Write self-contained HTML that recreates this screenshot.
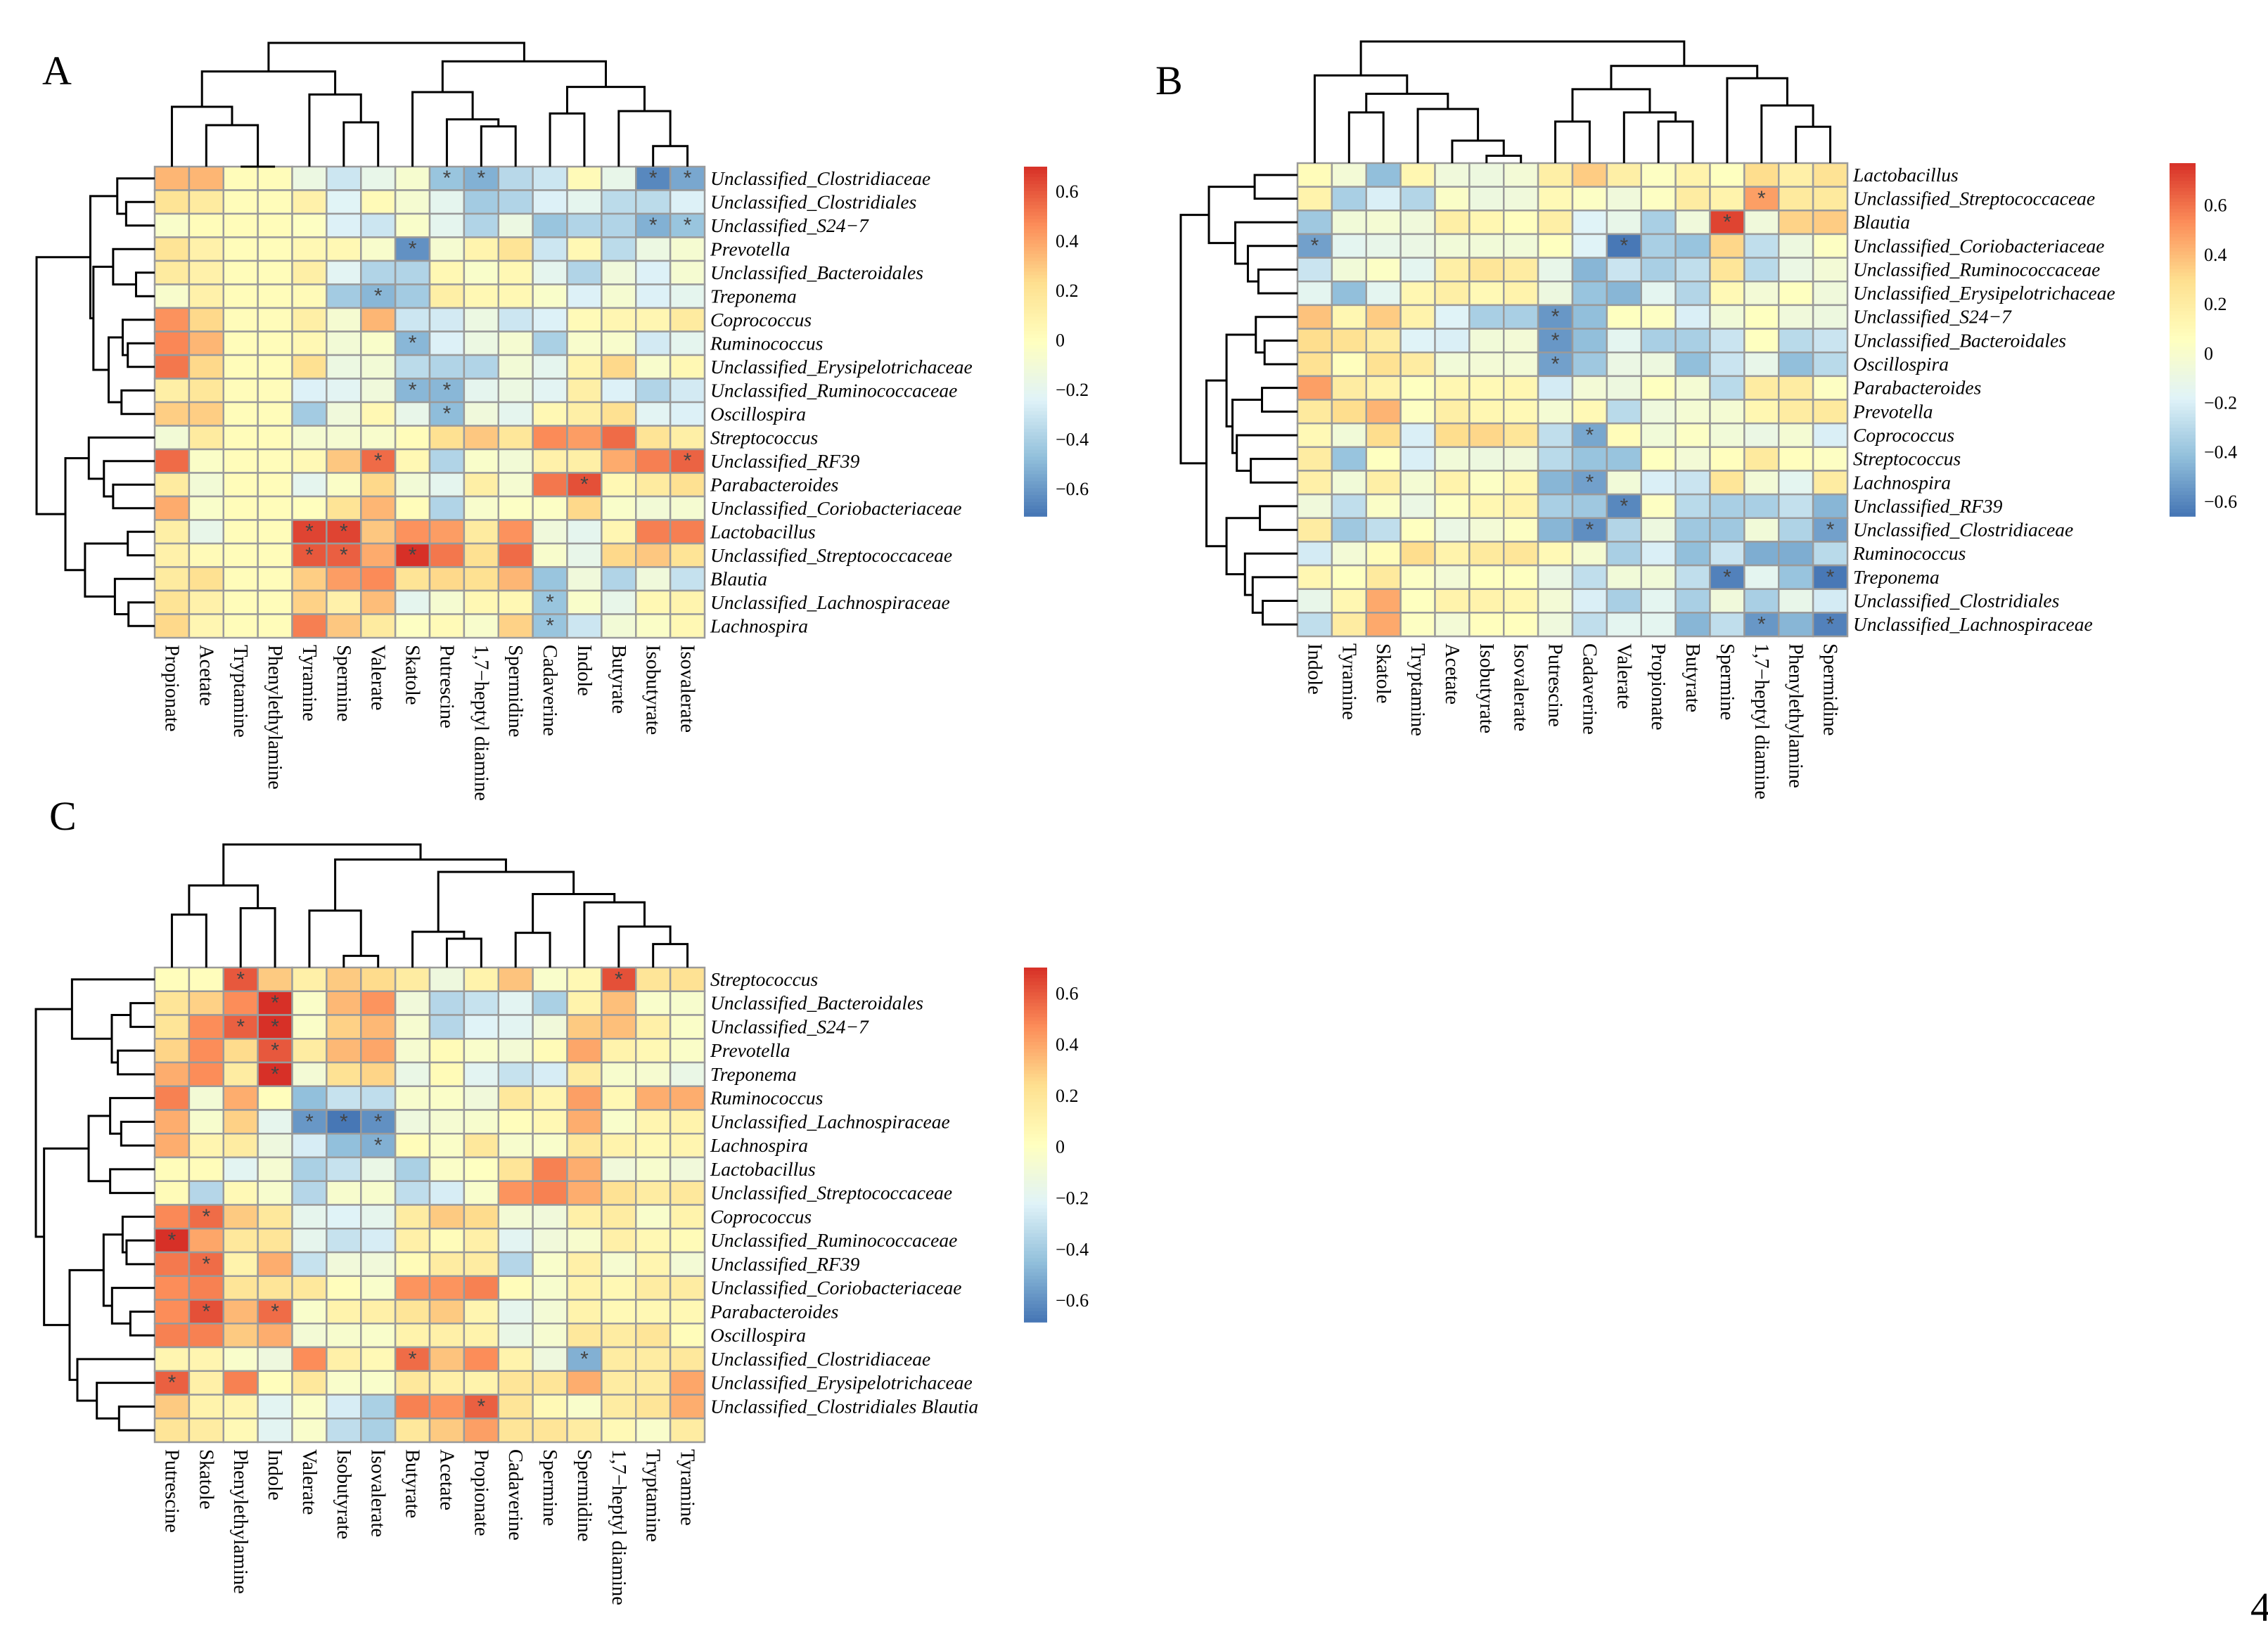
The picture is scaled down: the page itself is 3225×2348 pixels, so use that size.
<!DOCTYPE html>
<html><head><meta charset="utf-8"><title>Heatmaps</title>
<style>
html,body{margin:0;padding:0;background:#fff;}
svg{display:block;}
.rl{font-family:"Liberation Serif",serif;font-style:italic;font-size:27.5px;fill:#000;}
.cl{font-family:"Liberation Serif",serif;font-size:28.5px;fill:#000;}
.tk{font-family:"Liberation Serif",serif;font-size:26px;fill:#000;}
.pl{font-family:"Liberation Serif",serif;font-size:58px;fill:#000;}
.st{font-family:"Liberation Sans",sans-serif;font-size:30px;fill:#444;}
</style></head>
<body>
<svg id="fig" width="3225" height="2348" viewBox="0 0 3225 2348" xmlns="http://www.w3.org/2000/svg">
<text class="pl" x="60" y="120">A</text>
<text class="pl" x="1643" y="134">B</text>
<text class="pl" x="70" y="1180">C</text>
<text class="pl" x="3200" y="2305">4</text>
</svg>
<script>
// ---------- Panel A data ----------
const rowsA = ["Unclassified_Clostridiaceae","Unclassified_Clostridiales","Unclassified_S24\u22127","Prevotella","Unclassified_Bacteroidales","Treponema","Coprococcus","Ruminococcus","Unclassified_Erysipelotrichaceae","Unclassified_Ruminococcaceae","Oscillospira","Streptococcus","Unclassified_RF39","Parabacteroides","Unclassified_Coriobacteriaceae","Lactobacillus","Unclassified_Streptococcaceae","Blautia","Unclassified_Lachnospiraceae","Lachnospira"];
const colsA = ["Propionate","Acetate","Tryptamine","Phenylethylamine","Tyramine","Spermine","Valerate","Skatole","Putrescine","1,7\u2212heptyl diamine","Spermidine","Cadaverine","Indole","Butyrate","Isobutyrate","Isovalerate"];
const valsA = [
[0.35,0.35,0.02,0.02,-0.15,-0.3,-0.18,-0.07,-0.45,-0.52,-0.36,-0.3,0.03,-0.18,-0.65,-0.55],
[0.2,0.15,0.02,0.02,0.1,-0.23,0.03,-0.08,-0.2,-0.42,-0.38,-0.25,-0.2,-0.35,-0.35,-0.25],
[-0.05,0.02,0.02,0.02,-0.02,-0.25,-0.3,-0.05,-0.2,-0.38,-0.15,-0.45,-0.38,-0.38,-0.52,-0.45],
[0.2,0.1,0.02,0.02,0.05,0.05,-0.06,-0.62,-0.08,0.08,0.2,-0.3,0.05,-0.35,-0.15,-0.08],
[0.15,0.1,0.02,0.02,0.12,-0.22,-0.38,-0.38,0.05,-0.05,0.05,-0.2,-0.38,-0.12,-0.25,-0.08],
[-0.06,0.1,0.02,0.02,0.03,-0.42,-0.5,-0.42,0.12,0.05,0.05,-0.05,-0.25,-0.08,-0.25,-0.2],
[0.45,0.25,0.02,0.02,0.12,-0.08,0.35,-0.3,-0.28,-0.15,-0.3,-0.25,0.03,0.06,0.06,0.15],
[0.48,0.35,0.02,0.02,0.05,-0.1,-0.05,-0.5,-0.25,-0.15,-0.08,-0.4,-0.06,-0.06,-0.28,-0.2],
[0.52,0.25,0.02,0.02,0.22,-0.15,-0.1,-0.35,-0.38,-0.38,-0.1,-0.2,0.08,0.25,-0.06,0.05],
[0.12,0.18,0.02,0.02,-0.25,-0.22,-0.12,-0.5,-0.5,-0.2,-0.15,-0.22,0.12,-0.25,-0.38,-0.28],
[0.28,0.28,0.02,0.02,-0.42,-0.12,0.05,-0.18,-0.48,-0.12,-0.2,0.05,0.12,0.22,-0.22,-0.25],
[-0.1,0.15,0.02,0.02,-0.08,-0.08,-0.06,0.02,0.22,0.3,0.18,0.47,0.42,0.55,0.2,0.12],
[0.55,-0.04,0.02,0.02,0.04,0.3,0.55,0.05,-0.38,-0.05,-0.1,0.1,0.12,0.38,0.5,0.57],
[0.15,-0.1,0.02,0.02,-0.2,-0.04,0.25,-0.1,-0.2,0.12,-0.08,0.52,0.62,0.05,0.15,0.22],
[0.38,-0.05,0.02,0.02,0.0,0.2,0.35,0.02,-0.38,-0.06,-0.03,-0.03,0.25,-0.05,-0.1,-0.08],
[0.12,-0.18,0.02,0.02,0.65,0.65,0.3,0.45,0.42,0.15,0.45,-0.12,-0.2,0.06,0.5,0.5],
[0.1,0.03,0.02,0.02,0.6,0.58,0.38,0.72,0.52,0.22,0.55,-0.06,-0.18,0.25,0.3,0.2],
[0.15,0.22,0.02,0.02,0.28,0.42,0.47,0.2,0.25,0.22,0.35,-0.45,-0.12,-0.38,-0.12,-0.32],
[0.2,0.1,0.02,0.02,0.27,0.1,0.33,-0.2,-0.08,0.05,0.05,-0.45,-0.05,-0.18,0.05,0.08],
[0.25,0.06,0.02,0.02,0.5,0.3,0.15,-0.02,0.03,-0.06,0.27,-0.45,-0.3,-0.1,-0.04,0.05]];
const starsA = [[0,8],[0,9],[0,14],[0,15],[2,14],[2,15],[3,7],[5,6],[7,7],[9,7],[9,8],[10,8],[12,6],[12,15],[13,12],[15,4],[15,5],[16,4],[16,5],[16,7],[18,11],[19,11]];
const ticksA = ["0.6","0.4","0.2","0","\u22120.2","\u22120.4","\u22120.6"];
const tickValsA = [0.6,0.4,0.2,0,-0.2,-0.4,-0.6];
const colTreeA = [[2,3,0],[1,100,0.335],[0,101,0.484],[5,6,0.358],[4,103,0.583],[102,104,0.769],[9,10,0.325],[8,106,0.382],[7,107,0.602],[11,12,0.43],[14,15,0.166],[13,110,0.449],[109,111,0.644],[108,112,0.851],[105,113,1]];
const rowTreeA = [[1,2,.242],[0,100,.317],[4,5,.158],[3,102,.352],[7,8,.228],[6,104,.271],[9,10,.281],[105,106,.39],[103,107,.519],[101,108,.545],[13,14,.352],[12,110,.43],[11,111,.558],[15,16,.228],[18,19,.222],[17,114,.337],[113,115,.59],[112,116,.756],[109,117,1]];

// ---------- Panel B data ----------
const rowsB = ["Lactobacillus","Unclassified_Streptococcaceae","Blautia","Unclassified_Coriobacteriaceae","Unclassified_Ruminococcaceae","Unclassified_Erysipelotrichaceae","Unclassified_S24\u22127","Unclassified_Bacteroidales","Oscillospira","Parabacteroides","Prevotella","Coprococcus","Streptococcus","Lachnospira","Unclassified_RF39","Unclassified_Clostridiaceae","Ruminococcus","Treponema","Unclassified_Clostridiales","Unclassified_Lachnospiraceae"];
const colsB = ["Indole","Tyramine","Skatole","Tryptamine","Acetate","Isobutyrate","Isovalerate","Putrescine","Cadaverine","Valerate","Propionate","Butyrate","Spermine","1,7\u2212heptyl diamine","Phenylethylamine","Spermidine"];
const valsB = [
[0.08,-0.04,-0.42,0.12,-0.06,-0.08,-0.04,0.18,0.35,0.18,0.04,0.15,0.05,0.3,0.17,0.27],
[0.15,-0.35,-0.2,-0.32,0.02,-0.08,-0.06,0.1,0.03,-0.06,0.04,0.2,0.15,0.48,0.22,0.22],
[-0.38,-0.05,-0.03,-0.06,0.18,0.12,0.06,0.18,-0.18,-0.12,-0.35,-0.06,0.72,-0.06,0.33,0.35],
[-0.52,-0.15,-0.12,-0.1,-0.05,-0.05,-0.05,0.05,-0.18,-0.65,-0.35,-0.4,0.32,-0.28,-0.08,0.04],
[-0.25,-0.05,0.03,-0.15,0.18,0.25,0.2,-0.12,-0.45,-0.25,-0.35,-0.28,0.25,-0.3,-0.1,-0.04],
[-0.15,-0.42,-0.15,0.12,0.18,0.1,0.15,-0.08,-0.4,-0.45,-0.15,-0.32,0.1,-0.04,0.05,-0.06],
[0.38,0.12,0.35,0.15,-0.18,-0.35,-0.35,-0.55,-0.42,0.05,0.04,-0.2,-0.05,0.05,-0.06,-0.08],
[0.3,0.28,0.2,-0.18,-0.2,-0.05,-0.04,-0.55,-0.42,-0.15,-0.35,-0.35,-0.25,0.05,-0.3,-0.25],
[0.28,0.06,0.28,0.2,-0.05,-0.04,-0.04,-0.52,-0.38,-0.1,-0.08,-0.42,-0.25,-0.12,-0.42,-0.3],
[0.48,0.2,0.15,0.05,0.12,0.1,0.12,-0.22,-0.04,-0.08,0.05,-0.03,-0.3,0.2,0.2,0.04],
[0.22,0.3,0.42,0.04,0.18,0.12,0.1,-0.03,0.1,-0.3,-0.07,-0.03,-0.03,0.12,0.2,0.22],
[0.1,-0.05,0.3,-0.2,0.3,0.32,0.25,-0.28,-0.5,0.08,-0.05,0.03,-0.05,-0.1,-0.03,-0.2],
[0.2,-0.4,0.05,-0.2,-0.05,-0.08,-0.06,-0.3,-0.4,-0.4,0.05,-0.04,0.06,0.22,0.06,0.04],
[0.17,-0.05,0.18,-0.03,0.15,0.03,0.12,-0.45,-0.52,-0.05,-0.2,-0.25,0.25,-0.04,-0.15,0.2],
[-0.06,-0.28,0.02,-0.1,0.04,0.12,0.15,-0.35,-0.38,-0.6,0.04,-0.3,-0.35,-0.35,-0.27,-0.45],
[0.2,-0.38,-0.28,0.05,-0.1,-0.04,0.04,-0.45,-0.58,-0.32,-0.08,-0.38,-0.38,-0.05,-0.33,-0.52],
[-0.22,-0.04,0.08,0.3,0.15,0.22,0.25,0.1,-0.02,-0.35,-0.2,-0.42,-0.25,-0.48,-0.48,-0.3],
[0.12,0.05,0.22,0.03,-0.04,0.05,0.05,-0.1,-0.28,-0.05,-0.05,-0.28,-0.62,-0.15,-0.4,-0.65],
[-0.12,0.12,0.45,0.05,0.15,0.15,0.12,-0.04,-0.2,-0.35,-0.15,-0.35,-0.06,-0.35,-0.12,-0.22],
[-0.28,0.2,0.45,0.04,-0.04,0.06,0.06,-0.07,-0.28,-0.15,-0.15,-0.45,-0.28,-0.55,-0.45,-0.62]];
const starsB = [[1,13],[2,12],[3,0],[3,9],[6,7],[7,7],[8,7],[11,8],[13,8],[14,9],[15,8],[15,15],[17,12],[17,15],[19,13],[19,15]];
const ticksB = ["0.6","0.4","0.2","0","\u22120.2","\u22120.4","\u22120.6"];
const tickValsB = [0.6,0.4,0.2,0,-0.2,-0.4,-0.6];
const colTreeB = [[1,2,.417],[5,6,.061],[4,101,.185],[3,102,.445],[100,103,.57],[0,104,.721],[7,8,.342],[10,11,.342],[9,107,.417],[106,108,.608],[14,15,.299],[13,110,.474],[12,111,.698],[109,112,.799],[105,113,1]];
const rowTreeB = [[0,1,.367],[4,5,.335],[3,101,.425],[2,102,.533],[100,103,.759],[7,8,.282],[6,105,.357],[9,10,.304],[12,13,.4],[11,108,.52],[107,109,.557],[106,110,.608],[14,15,.322],[18,19,.298],[17,113,.384],[16,114,.45],[112,115,.608],[111,116,.78],[104,117,1]];

// ---------- Panel C data ----------
const rowsC = ["Streptococcus","Unclassified_Bacteroidales","Unclassified_S24\u22127","Prevotella","Treponema","Ruminococcus","Unclassified_Lachnospiraceae","Lachnospira","Lactobacillus","Unclassified_Streptococcaceae","Coprococcus","Unclassified_Ruminococcaceae","Unclassified_RF39","Unclassified_Coriobacteriaceae","Parabacteroides","Oscillospira","Unclassified_Clostridiaceae","Unclassified_Erysipelotrichaceae","Unclassified_Clostridiales Blautia",""];
const colsC = ["Putrescine","Skatole","Phenylethylamine","Indole","Valerate","Isobutyrate","Isovalerate","Butyrate","Acetate","Propionate","Cadaverine","Spermine","Spermidine","1,7\u2212heptyl diamine","Tryptamine","Tyramine"];
const valsC = [
[0.02,0.02,0.6,0.3,0.12,0.3,0.25,0.15,-0.12,0.1,0.32,-0.04,0.06,0.62,0.2,0.22],
[0.2,0.28,0.47,0.7,-0.03,0.35,0.45,-0.1,-0.35,-0.3,-0.2,-0.38,0.1,0.33,-0.04,-0.05],
[0.2,0.47,0.58,0.7,-0.03,0.28,0.35,-0.06,-0.35,-0.22,-0.2,-0.1,0.3,0.33,0.12,-0.03],
[0.27,0.47,0.25,0.6,0.15,0.35,0.4,-0.06,0.04,-0.04,-0.08,0.04,0.4,0.1,0.06,-0.03],
[0.38,0.47,0.15,0.7,-0.08,0.22,0.27,-0.15,0.04,-0.2,-0.3,-0.25,0.15,-0.05,-0.06,-0.15],
[0.5,-0.08,0.38,0.02,-0.45,-0.3,-0.32,-0.05,-0.03,-0.1,0.18,0.08,0.42,0.06,0.38,0.38],
[0.38,-0.05,0.28,-0.18,-0.58,-0.68,-0.6,-0.12,-0.07,-0.05,0.02,0.06,0.38,-0.04,0.08,0.1],
[0.38,0.08,0.15,-0.12,-0.25,-0.45,-0.5,0.03,-0.03,0.18,-0.05,-0.04,0.18,0.1,0.05,0.08],
[0.03,0.03,-0.2,-0.07,-0.38,-0.3,-0.15,-0.38,-0.03,0.0,0.2,0.5,0.38,-0.1,-0.05,-0.1],
[0.04,-0.35,0.05,-0.05,-0.35,-0.05,-0.05,-0.32,-0.25,-0.04,0.45,0.5,0.38,0.22,0.15,0.18],
[0.48,0.55,0.3,0.18,-0.18,-0.22,-0.18,0.15,0.3,0.25,-0.08,-0.1,0.12,0.15,-0.04,0.1],
[0.7,0.4,0.18,0.2,-0.18,-0.3,-0.25,0.12,0.03,0.12,-0.2,-0.1,-0.05,0.12,0.06,0.04],
[0.52,0.55,0.1,0.38,-0.3,-0.1,-0.1,0.04,0.15,0.15,-0.35,-0.04,0.12,-0.06,0.08,-0.08],
[0.47,0.5,0.2,0.2,0.18,0.02,-0.04,0.45,0.45,0.5,0.03,-0.05,0.1,0.06,0.15,0.15],
[0.47,0.62,0.35,0.55,-0.04,0.1,0.12,0.2,0.3,0.08,-0.18,-0.08,0.1,0.05,0.06,0.06],
[0.5,0.5,0.3,0.38,-0.08,-0.05,-0.04,0.1,0.12,0.1,-0.15,-0.06,0.18,0.15,0.2,0.03],
[0.08,0.08,-0.04,-0.12,0.47,0.12,0.05,0.55,0.32,0.47,0.1,-0.12,-0.5,0.15,0.15,0.18],
[0.58,0.12,0.5,0.02,0.18,-0.04,-0.04,0.18,0.12,0.1,0.2,0.2,0.38,0.15,0.15,0.4],
[0.3,0.1,0.08,-0.2,-0.03,-0.25,-0.38,0.5,0.45,0.58,0.2,0.05,-0.04,0.15,0.2,0.38],
[0.2,0.15,0.05,-0.2,-0.04,-0.32,-0.38,0.18,0.3,0.42,0.2,0.2,0.15,0.05,-0.04,0.15]];
const starsC = [[0,2],[0,13],[1,3],[2,2],[2,3],[3,3],[4,3],[6,4],[6,5],[6,6],[7,6],[10,1],[11,0],[12,1],[14,1],[14,3],[16,7],[16,12],[17,0],[18,9]];
const ticksC = ["0.6","0.4","0.2","0","\u22120.2","\u22120.4","\u22120.6"];
const tickValsC = [0.6,0.4,0.2,0,-0.2,-0.4,-0.6];
const colTreeC = [[0,1,.43],[2,3,.482],[100,101,.667],[5,6,.095],[4,103,.463],[8,9,.234],[7,105,.291],[10,11,.282],[14,15,.191],[13,108,.333],[12,109,.53],[107,110,.597],[106,111,.777],[104,112,.878],[102,113,1]];
const rowTreeC = [[1,2,.203],[3,4,.31],[100,101,.361],[0,102,.696],[6,7,.282],[5,104,.375],[8,9,.375],[105,106,.556],[11,12,.237],[10,108,.27],[14,15,.205],[13,110,.359],[109,111,.43],[18,19,.3],[17,113,.487],[16,114,.651],[112,115,.716],[107,116,.931],[103,117,1]];

// ---------- rendering ----------
const NS = "http://www.w3.org/2000/svg";
const svg = document.getElementById("fig");
const PAL = ["#4575B4","#91BFDB","#E0F3F8","#FFFFBF","#FEE090","#FC8D59","#D73027"];
function hex(h){return [parseInt(h.substr(1,2),16),parseInt(h.substr(3,2),16),parseInt(h.substr(5,2),16)];}
function colorFor(v,lo,hi){
  let t=(v-lo)/(hi-lo); t=Math.max(0,Math.min(1,t));
  const s=t*(PAL.length-1); const i=Math.min(PAL.length-2,Math.floor(s)); const f=s-i;
  const a=hex(PAL[i]), b=hex(PAL[i+1]);
  return "rgb("+a.map((x,k)=>Math.round(x+(b[k]-x)*f)).join(",")+")";
}
function mk(tag,attrs,parent){const e=document.createElementNS(NS,tag);for(const k in attrs)e.setAttribute(k,attrs[k]);(parent||svg).appendChild(e);return e;}

function dendro(tree,n,pos,base,extent,orient,g){
  const nodes=[];
  function get(r){ if(r>=100) return nodes[r-100]; return {p:pos(r),h:0}; }
  tree.forEach(function(m){
    const a=get(m[0]), b=get(m[1]); const h=m[2];
    let d;
    if(orient==="top"){
      const ya=base-a.h*extent, yb=base-b.h*extent, yn=base-h*extent;
      d="M"+a.p+","+ya+"V"+yn+"H"+b.p+"V"+yb;
    } else {
      const xa=base-a.h*extent, xb=base-b.h*extent, xn=base-h*extent;
      d="M"+xa+","+a.p+"H"+xn+"V"+b.p+"H"+xb;
    }
    const p=mk("path",{d:d,fill:"none",stroke:"#000","stroke-width":3},g);
    
    
    nodes.push({p:(a.p+b.p)/2,h:h});
  });
}

function panel(cfg){
  const g=mk("g",{});
  
  
  const nr=cfg.rows.length, nc=cfg.cols.length;
  const cw=(cfg.x1-cfg.x0)/nc, rh=(cfg.y1-cfg.y0)/nr;
  const xAt=c=>cfg.x0+c*cw, yAt=r=>cfg.y0+r*rh;
  cfg.vals.forEach(function(row,r){
    row.forEach(function(v,c){
      const rc=mk("rect",{x:xAt(c),y:yAt(r),width:cw,height:rh,fill:colorFor(v,cfg.lo,cfg.hi),stroke:"#9a9a9a","stroke-width":2.5},g);
      
      
    });
  });
  cfg.stars.forEach(function(s){
    const t=mk("text",{x:xAt(s[1])+cw/2,y:yAt(s[0])+rh*0.78,"text-anchor":"middle","class":"st"},g);
    t.textContent="*";
    
    
  });
  cfg.rows.forEach(function(lab,r){
    const t=mk("text",{x:cfg.x1+8,y:yAt(r)+rh/2+9,"class":"rl"},g);
    t.textContent=lab;
    
    
  });
  cfg.cols.forEach(function(lab,c){
    const cx=xAt(c)+cw/2, cy=cfg.y1+10;
    const t=mk("text",{x:cx,y:cy,transform:"rotate(90 "+cx+" "+cy+") translate(0 9)","class":"cl"},g);
    t.textContent=lab;
    
    
  });
  dendro(cfg.colTree,nc,c=>xAt(c)+cw/2,cfg.y0,cfg.y0-cfg.topRoot,"top",g);
  dendro(cfg.rowTree,nr,r=>yAt(r)+rh/2,cfg.x0,cfg.x0-cfg.leftRoot,"left",g);
  const cb=cfg.cb; const steps=100; const sh=(cb.y1-cb.y0)/steps;
  const cbg=mk("g",{},g);
  
  
  for(let i=0;i<steps;i++){
    const v=cfg.hi-(i+0.5)/steps*(cfg.hi-cfg.lo);
    mk("rect",{x:cb.x0,y:cb.y0+i*sh,width:cb.x1-cb.x0,height:sh+0.8,fill:colorFor(v,cfg.lo,cfg.hi)},cbg);
  }
  const vy=v=>cb.y0+(cfg.hi-v)/(cfg.hi-cfg.lo)*(cb.y1-cb.y0);
  cfg.ticks.forEach(function(lab,i){
    const t=mk("text",{x:cb.x1+12,y:vy(cfg.tickVals[i])+9,"class":"tk"},g);
    t.textContent=lab;
    
    
  });
}

panel({name:"heatmap-a",rows:rowsA,cols:colsA,vals:valsA,stars:starsA,ticks:ticksA,tickVals:tickValsA,colTree:colTreeA,rowTree:rowTreeA,
  x0:220,x1:1002,y0:237,y1:907,topRoot:61,leftRoot:52,lo:-0.71,hi:0.70,cb:{x0:1456,x1:1489,y0:237,y1:734}});
panel({name:"heatmap-b",rows:rowsB,cols:colsB,vals:valsB,stars:starsB,ticks:ticksB,tickVals:tickValsB,colTree:colTreeB,rowTree:rowTreeB,
  x0:1845,x1:2627,y0:232,y1:905,topRoot:59,leftRoot:1679,lo:-0.66,hi:0.77,cb:{x0:3085,x1:3122,y0:232,y1:734}});
panel({name:"heatmap-c",rows:rowsC,cols:colsC,vals:valsC,stars:starsC,ticks:ticksC,tickVals:tickValsC,colTree:colTreeC,rowTree:rowTreeC,
  x0:220,x1:1002,y0:1376,y1:2051,topRoot:1201,leftRoot:51,lo:-0.685,hi:0.70,cb:{x0:1456,x1:1489,y0:1376,y1:1880}});
</script>
</body></html>
